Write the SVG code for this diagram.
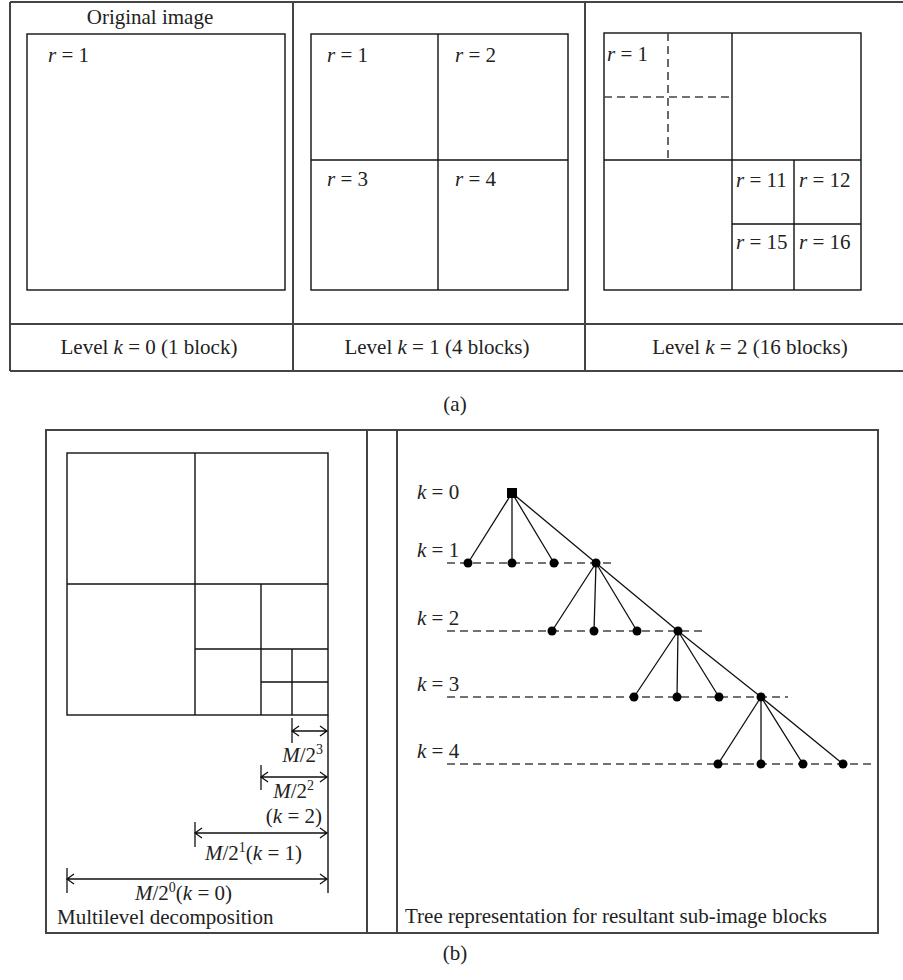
<svg xmlns="http://www.w3.org/2000/svg" width="903" height="980" viewBox="0 0 903 980">
<style>
text{font-family:"Liberation Serif","Times New Roman",serif;font-size:21px;fill:#222}
.it{font-style:italic}
.frame{stroke:#444;stroke-width:2;fill:none}
.ln{stroke:#111;stroke-width:1.4;fill:none}
.dash{stroke:#444;stroke-width:1.6;stroke-dasharray:8 5;fill:none}
.edge{stroke:#111;stroke-width:1.3;fill:none}
.arr{stroke:#111;stroke-width:1.3;fill:none}
.node{fill:#000}
.sup{font-size:14px}
</style>
<rect width="903" height="980" fill="#fff"/>

<g id="panel-a-frame">
<line class="frame" x1="10" y1="2" x2="903" y2="2"/>
<line class="frame" x1="10" y1="324" x2="903" y2="324"/>
<line class="frame" x1="10" y1="371" x2="903" y2="371"/>
<line class="frame" x1="10" y1="2" x2="10" y2="371"/>
<line class="frame" x1="293" y1="2" x2="293" y2="371"/>
<line class="frame" x1="585" y1="2" x2="585" y2="371"/>
</g>

<g id="level0">
<text x="150" y="24" text-anchor="middle">Original image</text>
<rect class="ln" x="27" y="34" width="258" height="256"/>
<text x="48" y="62"><tspan class="it">r</tspan> = 1</text>
<text x="149" y="354" text-anchor="middle">Level <tspan class="it">k</tspan> = 0 (1 block)</text>
</g>

<g id="level1">
<rect class="ln" x="311" y="34" width="257" height="256"/>
<line class="ln" x1="438" y1="34" x2="438" y2="290"/>
<line class="ln" x1="311" y1="160" x2="568" y2="160"/>
<text x="327" y="62"><tspan class="it">r</tspan> = 1</text>
<text x="455" y="62"><tspan class="it">r</tspan> = 2</text>
<text x="327" y="186"><tspan class="it">r</tspan> = 3</text>
<text x="455" y="186"><tspan class="it">r</tspan> = 4</text>
<text x="437" y="354" text-anchor="middle">Level <tspan class="it">k</tspan> = 1 (4 blocks)</text>
</g>

<g id="level2">
<rect class="ln" x="604" y="33" width="257" height="257"/>
<line class="ln" x1="732" y1="33" x2="732" y2="290"/>
<line class="ln" x1="604" y1="160" x2="861" y2="160"/>
<line class="dash" x1="668" y1="33" x2="668" y2="160"/>
<line class="dash" x1="604" y1="97" x2="732" y2="97"/>
<line class="ln" x1="794" y1="160" x2="794" y2="290"/>
<line class="ln" x1="732" y1="224" x2="861" y2="224"/>
<text x="607" y="61"><tspan class="it">r</tspan> = 1</text>
<text x="736" y="187"><tspan class="it">r</tspan> = 11</text>
<text x="799" y="187"><tspan class="it">r</tspan> = 12</text>
<text x="736" y="249"><tspan class="it">r</tspan> = 15</text>
<text x="799" y="249"><tspan class="it">r</tspan> = 16</text>
<text x="750" y="354" text-anchor="middle">Level <tspan class="it">k</tspan> = 2 (16 blocks)</text>
</g>

<text x="455" y="411" text-anchor="middle">(a)</text>

<g id="panel-b-frame">
<rect class="frame" x="46" y="430" width="832" height="503"/>
<line class="frame" x1="367" y1="430" x2="367" y2="933"/>
<line class="frame" x1="397" y1="430" x2="397" y2="933"/>
</g>

<g id="decomposition">
<rect class="ln" x="67" y="453" width="261" height="262"/>
<line class="ln" x1="195" y1="453" x2="195" y2="715"/>
<line class="ln" x1="67" y1="584" x2="328" y2="584"/>
<line class="ln" x1="261" y1="584" x2="261" y2="715"/>
<line class="ln" x1="195" y1="649" x2="328" y2="649"/>
<line class="ln" x1="292" y1="649" x2="292" y2="715"/>
<line class="ln" x1="261" y1="682" x2="328" y2="682"/>
<line class="ln" x1="328" y1="715" x2="328" y2="893"/>
<text x="57" y="924">Multilevel decomposition</text>
</g>

<g id="dimensions">
<line class="arr" x1="292" y1="718" x2="292" y2="743"/>
<path class="arr" d="M292 731H327M299 726L292 731L299 736M320 726L327 731L320 736"/>
<text x="323" y="762" text-anchor="end"><tspan class="it">M</tspan>/2<tspan class="sup" dy="-8">3</tspan></text>
<line class="arr" x1="261" y1="765" x2="261" y2="790"/>
<path class="arr" d="M261 777H327M268 772L261 777L268 782M320 772L327 777L320 782"/>
<text x="314" y="798" text-anchor="end"><tspan class="it">M</tspan>/2<tspan class="sup" dy="-8">2</tspan></text>
<text x="322" y="823" text-anchor="end">(<tspan class="it">k</tspan> = 2)</text>
<line class="arr" x1="195" y1="822" x2="195" y2="847"/>
<path class="arr" d="M195 833H327M202 828L195 833L202 838M320 828L327 833L320 838"/>
<text x="205" y="860"><tspan class="it">M</tspan>/2<tspan class="sup" dy="-8">1</tspan><tspan dy="8">(</tspan><tspan class="it">k</tspan> = 1)</text>
<line class="arr" x1="67" y1="868" x2="67" y2="893"/>
<path class="arr" d="M67 879H327M74 874L67 879L74 884M320 874L327 879L320 884"/>
<text x="135" y="900"><tspan class="it">M</tspan>/2<tspan class="sup" dy="-8">0</tspan><tspan dy="8">(</tspan><tspan class="it">k</tspan> = 0)</text>
</g>

<g id="tree-levels">
<text x="417" y="499"><tspan class="it">k</tspan> = 0</text>
<text x="417" y="557"><tspan class="it">k</tspan> = 1</text>
<text x="417" y="625"><tspan class="it">k</tspan> = 2</text>
<text x="417" y="691"><tspan class="it">k</tspan> = 3</text>
<text x="417" y="758"><tspan class="it">k</tspan> = 4</text>
<line class="dash" x1="447" y1="563" x2="615" y2="563"/>
<line class="dash" x1="447" y1="631" x2="706" y2="631"/>
<line class="dash" x1="447" y1="697" x2="788" y2="697"/>
<line class="dash" x1="447" y1="764" x2="873" y2="764"/>
<text x="405" y="923">Tree representation for resultant sub-image blocks</text>
</g>

<g id="connectors">
<path class="edge" d="M512 493L468 563M512 493L512 563M512 493L554 563M512 493L596 563"/>
<path class="edge" d="M596 563L552 631M596 563L594 631M596 563L637 631M596 563L678 631"/>
<path class="edge" d="M678 631L634 697M678 631L677 697M678 631L719 697M678 631L761 697"/>
<path class="edge" d="M761 697L718 764M761 697L761 764M761 697L803 764M761 697L843 764"/>
</g>

<g id="root"><rect class="node" x="507" y="488" width="10" height="10"/></g>
<g id="n1"><circle class="node" cx="468" cy="563" r="4.5"/><circle class="node" cx="512" cy="563" r="4.5"/><circle class="node" cx="554" cy="563" r="4.5"/><circle class="node" cx="596" cy="563" r="4.5"/></g>
<g id="n2"><circle class="node" cx="552" cy="631" r="4.5"/><circle class="node" cx="594" cy="631" r="4.5"/><circle class="node" cx="637" cy="631" r="4.5"/><circle class="node" cx="678" cy="631" r="4.5"/></g>
<g id="n3"><circle class="node" cx="634" cy="697" r="4.5"/><circle class="node" cx="677" cy="697" r="4.5"/><circle class="node" cx="719" cy="697" r="4.5"/><circle class="node" cx="761" cy="697" r="4.5"/></g>
<g id="n4"><circle class="node" cx="718" cy="764" r="4.5"/><circle class="node" cx="761" cy="764" r="4.5"/><circle class="node" cx="803" cy="764" r="4.5"/><circle class="node" cx="843" cy="764" r="4.5"/></g>

<text x="455" y="960" text-anchor="middle">(b)</text>
</svg>
